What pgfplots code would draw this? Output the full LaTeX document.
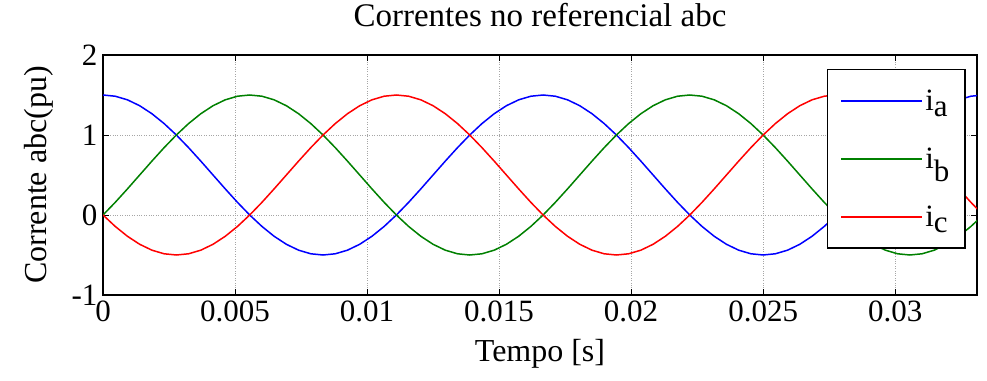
\documentclass[border=0pt]{standalone}
\usepackage{fontspec}
\setmainfont{Liberation Serif}
\usepackage{pgfplots}
\pgfplotsset{compat=1.18}
\usepackage{pgfplotstable}

% Three-phase currents (pu) sampled every 10 electrical degrees at 60 Hz
\pgfplotstableread{
t        ia       ib       ic
0        1.5      0.0      0.0
0.000463 1.4848   0.1580  -0.1428
0.000926 1.4397   0.3264  -0.2660
0.001389 1.3660   0.5     -0.3660
0.001852 1.2660   0.6736  -0.4397
0.002315 1.1428   0.8420  -0.4848
0.002778 1.0      1.0     -0.5
0.003241 0.8420   1.1428  -0.4848
0.003704 0.6736   1.2660  -0.4397
0.004167 0.5      1.3660  -0.3660
0.004630 0.3264   1.4397  -0.2660
0.005093 0.1580   1.4848  -0.1428
0.005556 0.0      1.5      0.0
0.006019 -0.1428  1.4848   0.1580
0.006481 -0.2660  1.4397   0.3264
0.006944 -0.3660  1.3660   0.5
0.007407 -0.4397  1.2660   0.6736
0.007870 -0.4848  1.1428   0.8420
0.008333 -0.5     1.0      1.0
0.008796 -0.4848  0.8420   1.1428
0.009259 -0.4397  0.6736   1.2660
0.009722 -0.3660  0.5      1.3660
0.010185 -0.2660  0.3264   1.4397
0.010648 -0.1428  0.1580   1.4848
0.011111 0.0      0.0      1.5
0.011574 0.1580  -0.1428   1.4848
0.012037 0.3264  -0.2660   1.4397
0.012500 0.5     -0.3660   1.3660
0.012963 0.6736  -0.4397   1.2660
0.013426 0.8420  -0.4848   1.1428
0.013889 1.0     -0.5      1.0
0.014352 1.1428  -0.4848   0.8420
0.014815 1.2660  -0.4397   0.6736
0.015278 1.3660  -0.3660   0.5
0.015741 1.4397  -0.2660   0.3264
0.016204 1.4848  -0.1428   0.1580
0.016667 1.5      0.0      0.0
0.017130 1.4848   0.1580  -0.1428
0.017593 1.4397   0.3264  -0.2660
0.018056 1.3660   0.5     -0.3660
0.018519 1.2660   0.6736  -0.4397
0.018981 1.1428   0.8420  -0.4848
0.019444 1.0      1.0     -0.5
0.019907 0.8420   1.1428  -0.4848
0.020370 0.6736   1.2660  -0.4397
0.020833 0.5      1.3660  -0.3660
0.021296 0.3264   1.4397  -0.2660
0.021759 0.1580   1.4848  -0.1428
0.022222 0.0      1.5      0.0
0.022685 -0.1428  1.4848   0.1580
0.023148 -0.2660  1.4397   0.3264
0.023611 -0.3660  1.3660   0.5
0.024074 -0.4397  1.2660   0.6736
0.024537 -0.4848  1.1428   0.8420
0.025000 -0.5     1.0      1.0
0.025463 -0.4848  0.8420   1.1428
0.025926 -0.4397  0.6736   1.2660
0.026389 -0.3660  0.5      1.3660
0.026852 -0.2660  0.3264   1.4397
0.027315 -0.1428  0.1580   1.4848
0.027778 0.0      0.0      1.5
0.028241 0.1580  -0.1428   1.4848
0.028704 0.3264  -0.2660   1.4397
0.029167 0.5     -0.3660   1.3660
0.029630 0.6736  -0.4397   1.2660
0.030093 0.8420  -0.4848   1.1428
0.030556 1.0     -0.5      1.0
0.031019 1.1428  -0.4848   0.8420
0.031481 1.2660  -0.4397   0.6736
0.031944 1.3660  -0.3660   0.5
0.032407 1.4397  -0.2660   0.3264
0.032870 1.4848  -0.1428   0.1580
0.033333 1.5      0.0      0.0
}\currents

\definecolor{mblue}{RGB}{0,0,255}
\definecolor{mgreen}{RGB}{0,128,0}
\definecolor{mred}{RGB}{255,0,0}

\begin{document}
\begin{tikzpicture}
\begin{axis}[
  at={(0,0)}, anchor=south west,
  scale only axis,
  width=874pt, height=240pt,
  xmin=0, xmax=0.0331,
  ymin=-1, ymax=2,
  scaled x ticks=false,
  xtick={0,0.005,0.01,0.015,0.02,0.025,0.03},
  xticklabels={0,0.005,0.01,0.015,0.02,0.025,0.03},
  ytick={-1,0,1,2},
  yticklabels={-1,0,1,2},
  tick align=inside,
  major tick length=6pt,
  tick style={black, line width=1pt},
  axis line style={black, line width=1.8pt},
  grid=major,
  major grid style={gray!70, dotted, line width=1pt},
  ticklabel style={font=\fontsize{31}{31}\selectfont},
  xticklabel style={yshift=-2pt},
  yticklabel style={xshift=-2pt},
  title={Correntes no referencial abc},
  title style={font=\fontsize{33}{33}\selectfont, anchor=base, at={(0.5,1)}, yshift=23pt},
  xlabel={Tempo [s]},
  xlabel style={font=\fontsize{32}{32}\selectfont, anchor=base, at={(0.5,0)}, yshift=-66pt},
  ylabel={Corrente abc(pu)},
  ylabel style={font=\fontsize{32}{32}\selectfont, anchor=base, at={(-0.0652,0.5)}},
  legend style={
    at={(0.987,0.942)}, anchor=north east,
    line width=1.5pt,
    inner xsep=13pt, inner ysep=18pt,
    row sep=32pt,
    font=\fontsize{31}{31}\selectfont,
    legend cell align=left,
  },
  legend image code/.code={%
    \draw[line width=1.8pt, #1] (0pt,0pt) -- (81pt,0pt);},
  every axis plot/.append style={line width=1.5pt},
]
\addplot[draw=mblue] table[x=t, y=ia] {\currents};
\addlegendentry{i$_{\textrm{a}}$}
\addplot[draw=mgreen] table[x=t, y=ib] {\currents};
\addlegendentry{i$_{\textrm{b}}$}
\addplot[draw=mred] table[x=t, y=ic] {\currents};
\addlegendentry{i$_{\textrm{c}}$}
\end{axis}
\pgfresetboundingbox
\path (-103pt,-85pt) rectangle (884pt,295pt);
\end{tikzpicture}
\end{document}
